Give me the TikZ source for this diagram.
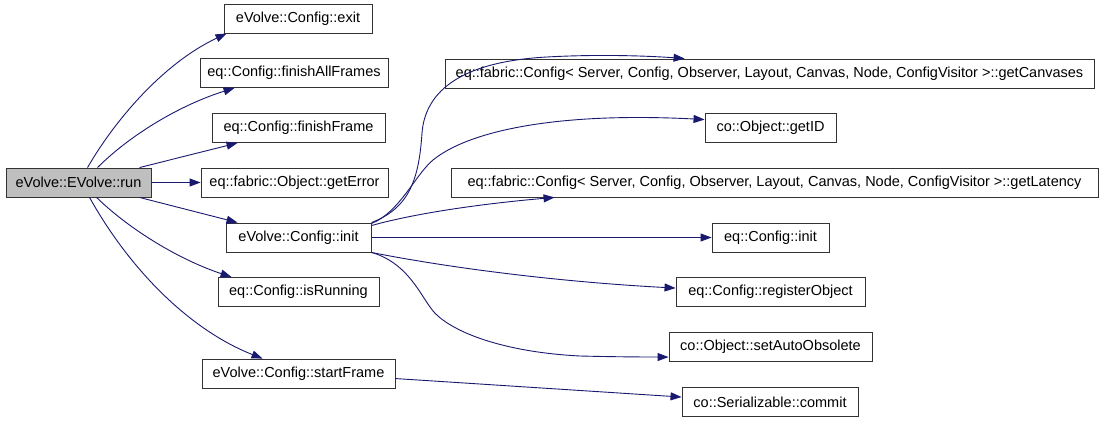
\documentclass[tikz,border=0pt]{standalone}
\usepackage{fontspec}
\setmainfont{Liberation Sans}
\usetikzlibrary{arrows.meta}
\definecolor{edgeblue}{HTML}{191970}
\definecolor{boxline}{HTML}{333333}
\definecolor{runfill}{HTML}{BFBFBF}
\begin{document}
\begin{tikzpicture}[x=1pt,y=-1pt,
  box/.style={draw=boxline,line width=0.9pt,fill=white,inner sep=0pt,minimum height=29pt,
    font=\fontsize{14.5}{17}\selectfont},
  edge/.style={draw=edgeblue,line width=0.9pt,-{Triangle[length=11pt,width=8pt]},fill=none}]
\useasboundingbox (0,0) rectangle (1101,423);
\fill[white] (0,0) rectangle (1101,423);
% left
\node[box,fill=runfill,minimum width=145pt] (run) at (78.5,182.5) {eVolve::EVolve::run};
% middle column
\node[box,minimum width=148pt] (exit) at (298,18.5) {eVolve::Config::exit};
\node[box,minimum width=188pt] (faf) at (294,73) {eq::Config::finishAllFrames};
\node[box,minimum width=173pt] (ff) at (298.5,128) {eq::Config::finishFrame};
\node[box,minimum width=187pt] (ge) at (294.5,182.5) {eq::fabric::Object::getError};
\node[box,minimum width=145pt] (init) at (298.5,237.5) {eVolve::Config::init};
\node[box,minimum width=161pt] (isr) at (298.5,292) {eq::Config::isRunning};
\node[box,minimum width=193pt] (sf) at (298.5,373.5) {eVolve::Config::startFrame};
% right column
\node[box,minimum width=649pt] (gc) at (769.5,73.5) {eq::fabric::Config< Server, Config, Observer, Layout, Canvas, Node, ConfigVisitor >::getCanvases};
\node[box,minimum width=131pt] (gid) at (770.5,127.5) {co::Object::getID};
\node[box,minimum width=647pt] (gl) at (774.5,182.5) {eq::fabric::Config< Server, Config, Observer, Layout, Canvas, Node, ConfigVisitor >::getLatency};
\node[box,minimum width=117pt] (cinit) at (770.5,237.5) {eq::Config::init};
\node[box,minimum width=189pt] (ro) at (770.5,292) {eq::Config::registerObject};
\node[box,minimum width=203pt] (sao) at (770.5,347) {co::Object::setAutoObsolete};
\node[box,minimum width=176pt] (com) at (770,402) {co::Serializable::commit};
% edges from run
\draw[edge] ([xshift=82pt]run.north west) .. controls (112,125) and (160,65) .. ([xshift=3pt]exit.south west);
\draw[edge] ([xshift=92pt]run.north west) .. controls (130,135) and (180,105) .. ([xshift=35pt]faf.south west);
\draw[edge] ([xshift=134pt]run.north west) -- ([xshift=26pt]ff.south west);
\draw[edge] (run.east) -- (ge.west);
\draw[edge] ([xshift=134pt]run.south west) -- ([xshift=12pt]init.north west);
\draw[edge] ([xshift=91pt]run.south west) .. controls (130,230) and (180,260) .. ([xshift=14pt]isr.north west);
\draw[edge] ([xshift=84pt]run.south west) .. controls (130,270) and (190,330) .. ([xshift=61pt]sf.north west);
% edges from init
\draw[edge] (init.north east) .. controls (410,208) and (419,178) .. (422,133)
  .. controls (425,95) and (455,62) .. (547,57)
  .. controls (600,54) and (650,56) .. ([xshift=240pt]gc.north west);
\draw[edge] ([yshift=-1pt]init.north east) .. controls (400,212) and (415,175) .. (433,160)
  .. controls (470,130) and (560,112) .. ([yshift=-7pt]gid.north west);
\draw[edge] ([yshift=-3pt]init.north east) .. controls (420,212) and (490,203) .. ([xshift=104pt]gl.south west);
\draw[edge] (init.east) -- (cinit.west);
\draw[edge] (init.south east) .. controls (450,268) and (560,282) .. ([yshift=-11pt]ro.north west);
\draw[edge] (init.south east) .. controls (405,262) and (418,290) .. (430,307)
  .. controls (445,330) and (500,352) .. (580,356)
  .. controls (620,357) and (650,357) .. ([yshift=-25pt]sao.north west);
% startFrame -> commit
\draw[edge] ([yshift=-20pt]sf.north east) -- ([yshift=-10pt]com.north west);
\end{tikzpicture}
\end{document}
